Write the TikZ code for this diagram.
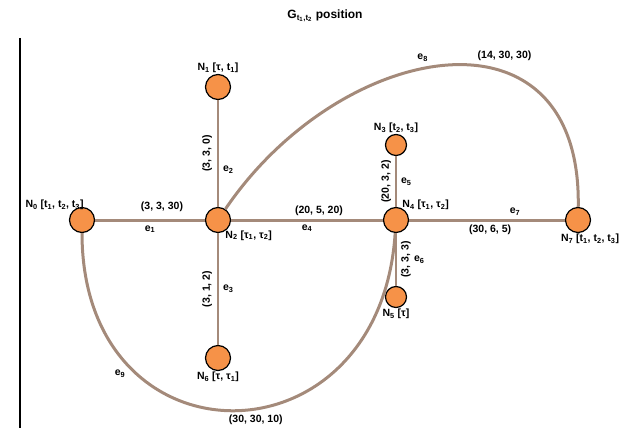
\documentclass[tikz,border=0pt]{standalone}
\usepackage{fontspec}
\setmainfont{Liberation Sans}
\definecolor{edgebrown}{RGB}{164,138,122}
\definecolor{vertexorange}{RGB}{246,146,72}
\tikzset{
    vertex/.style={circle, draw=black, line width=1.2pt, fill=vertexorange, minimum size=25pt, inner sep=0pt},
    edgeline/.style={draw=edgebrown, line width=3pt},
    thinedge/.style={draw=edgebrown, line width=2pt},
    lbl/.style={font=\fontsize{10.5}{11}\selectfont\bfseries, inner sep=1pt}
}
\begin{document}
\begin{tikzpicture}[x=1pt, y=-1pt]
        \useasboundingbox (0,0) rectangle (637,428);
        % titolo
        \node[lbl, font=\fontsize{12}{13}\selectfont\bfseries] (title) at (325,16) {G\textsubscript{t\textsubscript{1},t\textsubscript{2}} position};
        % asse verticale
        \coordinate (top) at (20,38);
        \coordinate (bottom) at (20,428);
        \draw[line width=1.5pt] (top) -- (bottom);

        % disegno i nodi
        \node[vertex, label={[lbl]above:N\textsubscript{1} [τ, t\textsubscript{1}]}] (n1) at (218,87) {};
        \node[vertex, label={[lbl, anchor=south east, xshift=12pt]north west:N\textsubscript{0} [t\textsubscript{1}, t\textsubscript{2}, t\textsubscript{3}]}] (n0) at (82,220) {};
        \node[vertex, label={[lbl, anchor=north west, xshift=-3pt]south east:N\textsubscript{2} [τ\textsubscript{1}, τ\textsubscript{2}]}] (n2) at (218,220) {};
        \node[vertex, minimum size=21pt, label={[lbl]above:N\textsubscript{3} [t\textsubscript{2}, t\textsubscript{3}]}] (n3) at (396,145) {};
        \node[vertex, label={[lbl, anchor=south west, xshift=-4pt]north east:N\textsubscript{4} [τ\textsubscript{1}, τ\textsubscript{2}]}] (n4) at (396,220) {};
        \node[vertex, minimum size=21pt, label={[lbl]below:N\textsubscript{5} [τ]}] (n5) at (396,297) {};
        \node[vertex, label={[lbl]below:N\textsubscript{6} [τ, τ\textsubscript{1}]}] (n6) at (218,358) {};
        \node[vertex, label={[lbl, xshift=12pt]below:N\textsubscript{7} [t\textsubscript{1}, t\textsubscript{2}, t\textsubscript{3}]}] (n7) at (578,220) {};

        % archi dritti
        \draw[edgeline] (n0) -- node[lbl, above=6pt, xshift=12pt] {(3, 3, 30)} node[lbl, below=3pt] {e\textsubscript{1}} (n2);
        \draw[thinedge] (n2) -- node[lbl, rotate=90, anchor=south, yshift=4pt] {(3, 3, 0)} node[lbl, right=3pt, pos=0.35] {e\textsubscript{2}} (n1);
        \draw[thinedge] (n2) -- node[lbl, rotate=90, anchor=south, yshift=4pt] {(3, 1, 2)} node[lbl, right=3pt, pos=0.5] {e\textsubscript{3}} (n6);
        \draw[edgeline] (n2) -- node[lbl, above=2pt, xshift=12pt] {(20, 5, 20)} node[lbl, below=2pt] {e\textsubscript{4}} (n4);
        \draw[thinedge] (n4) -- node[lbl, rotate=90, anchor=south, yshift=3pt] {(20, 3, 2)} node[lbl, right=3pt] {e\textsubscript{5}} (n3);
        \draw[thinedge] (n4) -- node[lbl, rotate=90, anchor=north, yshift=-3pt] {(3, 3, 3)} node[lbl, right=16pt, pos=0.5] {e\textsubscript{6}} (n5);
        \draw[edgeline] (n4) -- node[lbl, above=2pt, pos=0.68] {e\textsubscript{7}} node[lbl, below=2pt, pos=0.52] {(30, 6, 5)} (n7);

        % archi curvi
        \draw[edgeline] (n2) .. controls (340,40) and (582,-5) .. node[lbl, pos=0.47, above=3pt, xshift=-10pt] {e\textsubscript{8}} node[lbl, pos=0.62, above=6pt, xshift=8pt] {(14, 30, 30)} (n7);
        \draw[edgeline] (n0) .. controls (82,470) and (380,470) .. node[lbl, pos=0.25, below left=1pt] {e\textsubscript{9}} node[lbl, pos=0.55, below=3pt] {(30, 30, 10)} (n4);
    \end{tikzpicture}
\end{document}
